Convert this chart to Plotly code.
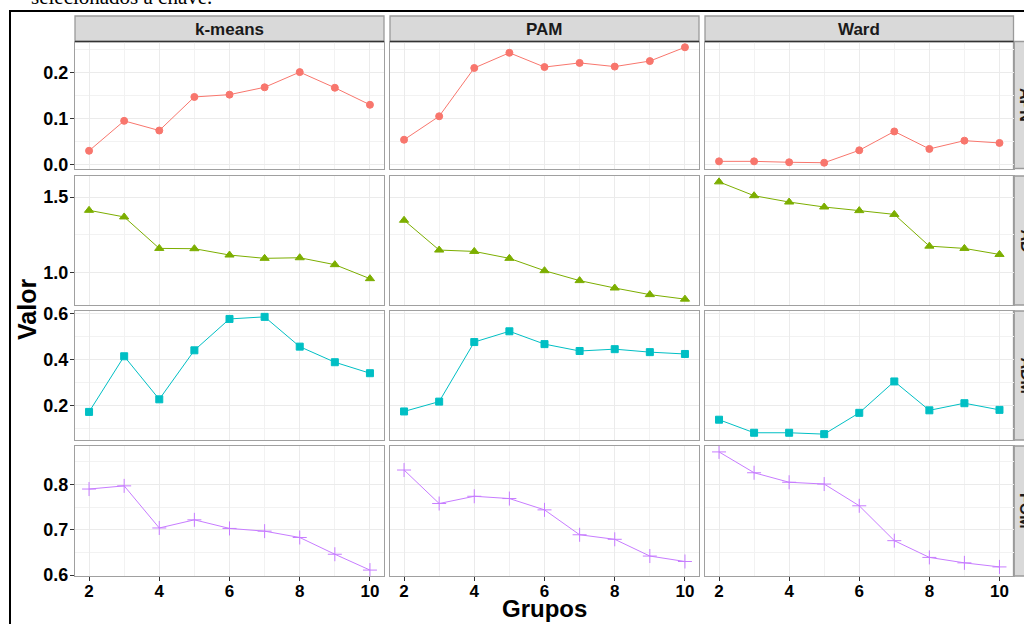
import plotly.graph_objects as go

# ---------------- data ----------------
groups = [2, 3, 4, 5, 6, 7, 8, 9, 10]
methods = ["k-means", "PAM", "Ward"]
measures = ["APN", "AD", "ADM", "FOM"]

apn_kmeans = [0.030, 0.095, 0.074, 0.147, 0.152, 0.168, 0.201, 0.167, 0.130]
apn_pam    = [0.054, 0.105, 0.210, 0.243, 0.212, 0.221, 0.213, 0.225, 0.255]
apn_ward   = [0.007, 0.007, 0.005, 0.004, 0.031, 0.072, 0.034, 0.052, 0.047]

ad_kmeans = [1.412, 1.368, 1.159, 1.157, 1.115, 1.093, 1.097, 1.051, 0.958]
ad_pam    = [1.346, 1.148, 1.139, 1.093, 1.011, 0.945, 0.896, 0.852, 0.822]
ad_ward   = [1.601, 1.509, 1.467, 1.434, 1.410, 1.385, 1.174, 1.159, 1.119]

adm_kmeans = [0.171, 0.414, 0.226, 0.440, 0.577, 0.586, 0.456, 0.388, 0.340]
adm_pam    = [0.173, 0.216, 0.476, 0.523, 0.467, 0.437, 0.445, 0.432, 0.424]
adm_ward   = [0.137, 0.080, 0.080, 0.074, 0.167, 0.304, 0.178, 0.209, 0.180]

fom_kmeans = [0.790, 0.797, 0.704, 0.722, 0.703, 0.697, 0.683, 0.646, 0.611]
fom_pam    = [0.832, 0.758, 0.774, 0.769, 0.744, 0.689, 0.679, 0.642, 0.630]
fom_ward   = [0.872, 0.826, 0.805, 0.801, 0.753, 0.676, 0.639, 0.627, 0.618]

values = {
    "APN": [apn_kmeans, apn_pam, apn_ward],
    "AD": [ad_kmeans, ad_pam, ad_ward],
    "ADM": [adm_kmeans, adm_pam, adm_ward],
    "FOM": [fom_kmeans, fom_pam, fom_ward],
}

x_title = "Grupos"
y_title = "Valor"
top_text = "selecionados a chave."

# ---------------- styles ----------------
colors = {"APN": "#F8766D", "AD": "#7CAE00", "ADM": "#00BFC4", "FOM": "#C77CFF"}
symbols = {"APN": "circle", "AD": "triangle-up", "ADM": "square", "FOM": "cross-thin-open"}
msizes = {"APN": 7, "AD": 8, "ADM": 7, "FOM": 10}
ydtick = {"APN": 0.1, "AD": 0.5, "ADM": 0.2, "FOM": 0.1}

W, H = 1024, 624
col_px = [(75, 384), (390, 699), (705, 1013.5)]
row_px = [(41.5, 168.5), (176, 305), (311, 440), (446, 576)]
strip_px = (16, 41.5)

def fx(p):
    return p / W

def fy(p):
    return 1 - p / H

FONT = "Liberation Sans"
fig = go.Figure()
layout = {}
shapes = []
annotations = []

for r, m in enumerate(measures):
    allv = [v for s in values[m] for v in s]
    lo, hi = min(allv), max(allv)
    span = hi - lo
    yrange = [lo - 0.05 * span, hi + 0.05 * span]
    for c, meth in enumerate(methods):
        k = r * 3 + c + 1
        xs = "x" if k == 1 else f"x{k}"
        ys = "y" if k == 1 else f"y{k}"
        fig.add_trace(go.Scatter(
            x=groups, y=values[m][c], xaxis=xs, yaxis=ys,
            mode="lines+markers",
            line=dict(color=colors[m], width=1),
            marker=dict(color=colors[m], symbol=symbols[m], size=msizes[m],
                        line=dict(color=colors[m], width=1)),
            showlegend=False, cliponaxis=False,
        ))
        x0, x1 = col_px[c]
        y0, y1 = row_px[r]
        layout["xaxis" if k == 1 else f"xaxis{k}"] = dict(
            domain=[fx(x0), fx(x1)], anchor=ys, range=[1.6, 10.4],
            tickvals=[2, 4, 6, 8, 10], automargin=False,
            showticklabels=(r == 3), ticks="outside" if r == 3 else "",
            ticklen=4, tickcolor="#333333", tickwidth=1, ticklabelstandoff=-5,
            tickfont=dict(family=FONT, size=17, color="black", weight="bold"),
            showgrid=True, gridcolor="#EBEBEB", gridwidth=1.1,
            minor=dict(tickvals=[3, 5, 7, 9], showgrid=True, gridcolor="#F2F2F2", gridwidth=0.7),
            showline=True, mirror=True, linecolor="#A0A0A0", linewidth=1.3,
            zeroline=False, fixedrange=True,
        )
        layout["yaxis" if k == 1 else f"yaxis{k}"] = dict(
            domain=[fy(y1), fy(y0)], anchor=xs, range=yrange, automargin=False,
            tick0=0, dtick=ydtick[m], tickformat=".1f",
            showticklabels=(c == 0), ticks="outside" if c == 0 else "",
            ticklen=4, tickcolor="#333333", tickwidth=1, ticklabelstandoff=-2,
            tickfont=dict(family=FONT, size=18, color="black", weight="bold"),
            showgrid=True, gridcolor="#EBEBEB", gridwidth=1.1,
            minor=dict(dtick=ydtick[m] / 2, tick0=0, showgrid=True, gridcolor="#F2F2F2", gridwidth=0.7),
            showline=True, mirror=True, linecolor="#A0A0A0", linewidth=1.3,
            zeroline=False, fixedrange=True,
        )

# top strips
for c, meth in enumerate(methods):
    x0, x1 = col_px[c]
    shapes.append(dict(type="rect", xref="paper", yref="paper",
                       x0=fx(x0), x1=fx(x1), y0=fy(strip_px[1]), y1=fy(strip_px[0]),
                       fillcolor="#D9D9D9", line=dict(color="#9A9A9A", width=1.3), layer="below"))
    shapes.append(dict(type="line", xref="paper", yref="paper",
                       x0=fx(x0), x1=fx(x1), y0=fy(strip_px[1]), y1=fy(strip_px[1]),
                       line=dict(color="#333333", width=1.5)))
    annotations.append(dict(text=meth, xref="paper", yref="paper",
                            x=fx((x0 + x1) / 2), y=fy((strip_px[0] + strip_px[1]) / 2 + 1),
                            showarrow=False, xanchor="center", yanchor="middle",
                            font=dict(family=FONT, size=17, color="#1A1A1A", weight="bold")))

# right strips
for r, m in enumerate(measures):
    y0, y1 = row_px[r]
    shapes.append(dict(type="rect", xref="paper", yref="paper",
                       x0=fx(1013.5), x1=fx(1040), y0=fy(y1), y1=fy(y0),
                       fillcolor="#D9D9D9", line=dict(color="#9A9A9A", width=1.3), layer="below"))
    annotations.append(dict(text=m, xref="paper", yref="paper",
                            x=fx(1026), y=fy((y0 + y1) / 2),
                            showarrow=False, xanchor="center", yanchor="middle", textangle=90,
                            font=dict(family=FONT, size=16, color="#1A1A1A", weight="bold")))

# outer frame
shapes.append(dict(type="rect", xref="paper", yref="paper",
                   x0=fx(10), x1=fx(1040), y0=fy(640), y1=fy(11),
                   line=dict(color="black", width=2), fillcolor="rgba(0,0,0,0)"))

# axis titles
annotations.append(dict(text=x_title, xref="paper", yref="paper", x=fx(544), y=fy(608),
                        showarrow=False, xanchor="center", yanchor="middle",
                        font=dict(family=FONT, size=24, color="black", weight="bold")))
annotations.append(dict(text=y_title, xref="paper", yref="paper", x=fx(27), y=fy(310),
                        showarrow=False, xanchor="center", yanchor="middle", textangle=-90,
                        font=dict(family=FONT, size=25, color="black", weight="bold")))
# cut-off document text at the top
annotations.append(dict(text=top_text, xref="paper", yref="paper", x=fx(214), y=fy(10.5),
                        showarrow=False, xanchor="right", yanchor="bottom",
                        font=dict(family="Liberation Serif", size=21, color="black")))

fig.update_layout(
    width=W, height=H, margin=dict(l=0, r=0, t=0, b=0, autoexpand=False),
    paper_bgcolor="white", plot_bgcolor="white",
    shapes=shapes, annotations=annotations, showlegend=False,
    **layout,
)

fig.write_html("out.html", config={"displayModeBar": False},
               post_script="document.body.style.margin='0';")
